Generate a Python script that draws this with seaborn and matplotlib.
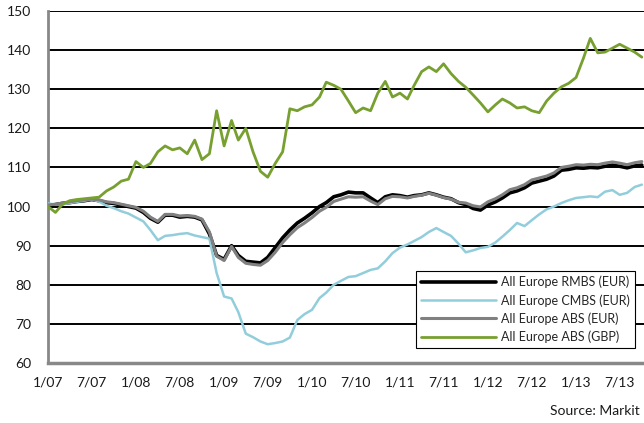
import numpy as np
import pandas as pd
import matplotlib
matplotlib.use('Agg')
import matplotlib.pyplot as plt
import seaborn as sns

# monthly readings, Jan 2007 .. Oct 2013
rmbs_eur = [100.2, 100.5, 100.8, 101.0, 101.3, 101.5, 101.8, 101.5, 101.0, 100.8,
            100.4, 100.0, 99.6, 98.5, 97.0, 96.0, 97.8, 97.8, 97.3, 97.5,
            97.3, 96.6, 93.0, 87.5, 86.5, 90.0, 87.5, 86.0, 85.8, 85.6,
            87.0, 89.5, 92.0, 94.0, 95.8, 97.0, 98.4, 100.0, 101.0, 102.5,
            103.0, 103.7, 103.5, 103.5, 102.2, 101.0, 102.5, 103.0, 102.8, 102.4,
            102.8, 103.0, 103.5, 103.0, 102.4, 102.0, 101.0, 100.5, 99.5, 99.1,
            100.4, 101.2, 102.2, 103.5, 104.0, 104.8, 106.0, 106.5, 107.0, 107.8,
            109.3, 109.5, 109.9, 109.8, 110.0, 109.9, 110.3, 110.6, 110.3, 109.9,
            110.4, 110.6]
cmbs_eur = [100.8, 100.5, 100.6, 100.9, 101.2, 101.5, 101.8, 101.3, 100.2, 99.6,
            98.8, 98.2, 97.2, 96.2, 94.0, 91.4, 92.5, 92.7, 93.0, 93.2,
            92.6, 92.2, 91.8, 83.0, 77.0, 76.5, 73.0, 67.5, 66.6, 65.5,
            64.8, 65.1, 65.5, 66.5, 71.0, 72.5, 73.6, 76.6, 78.0, 80.0,
            81.0, 82.0, 82.2, 83.0, 83.8, 84.2, 86.0, 88.1, 89.5, 90.3,
            91.2, 92.2, 93.5, 94.5, 93.5, 92.5, 90.5, 88.3, 88.8, 89.4,
            89.7, 90.8, 92.3, 94.0, 95.8, 95.0, 96.5, 98.0, 99.3, 100.0,
            100.9, 101.6, 102.2, 102.4, 102.6, 102.4, 103.8, 104.2, 103.0, 103.5,
            105.0, 105.6]
abs_eur = [100.4, 100.6, 100.9, 101.2, 101.5, 101.7, 101.9, 101.7, 101.2, 101.0,
           100.6, 100.2, 99.8, 98.8, 97.3, 96.2, 98.0, 98.0, 97.6, 97.7,
           97.5, 96.8, 93.5, 87.3, 86.2, 89.8, 87.0, 85.5, 85.2, 85.0,
           86.2, 88.3, 90.8, 92.8, 94.6, 95.8, 97.2, 98.8, 99.8, 101.3,
           101.9, 102.5, 102.4, 102.5, 101.4, 100.5, 102.0, 102.6, 102.5, 102.2,
           102.6, 102.9, 103.4, 102.9, 102.3, 101.9, 101.1, 100.9, 100.2, 99.9,
           101.2, 102.0, 103.0, 104.3, 104.8, 105.6, 106.8, 107.3, 107.8, 108.6,
           110.0, 110.3, 110.7, 110.6, 110.8, 110.7, 111.1, 111.4, 111.1, 110.7,
           111.2, 111.5]
abs_gbp = [100.0, 98.5, 100.5, 101.5, 101.8, 102.0, 102.2, 102.4, 104.0, 105.0,
           106.5, 107.0, 111.5, 110.0, 111.0, 114.0, 115.5, 114.5, 115.0, 113.5,
           117.0, 112.0, 113.5, 124.5, 115.5, 122.0, 117.0, 120.0, 114.0, 109.0,
           107.5, 111.0, 114.0, 125.0, 124.5, 125.5, 126.0, 128.0, 131.8, 131.0,
           130.0, 127.0, 124.0, 125.2, 124.5, 129.0, 132.0, 128.0, 129.0, 127.5,
           131.0, 134.5, 135.7, 134.5, 136.5, 134.0, 132.0, 130.5, 128.5, 126.5,
           124.2, 126.0, 127.5, 126.5, 125.2, 125.5, 124.5, 124.0, 127.0, 129.0,
           130.6, 131.5, 133.0, 138.0, 143.0, 139.3, 139.5, 140.5, 141.5, 140.5,
           139.5, 138.2]

series_names = ['All Europe RMBS (EUR)', 'All Europe CMBS (EUR)',
                'All Europe ABS (EUR)', 'All Europe ABS (GBP)']
tick_dates = ['2007-01-01', '2007-07-01', '2008-01-01', '2008-07-01', '2009-01-01',
              '2009-07-01', '2010-01-01', '2010-07-01', '2011-01-01', '2011-07-01',
              '2012-01-01', '2012-07-01', '2013-01-01', '2013-07-01']
tick_labels = ['1/07', '7/07', '1/08', '7/08', '1/09', '7/09', '1/10', '7/10',
               '1/11', '7/11', '1/12', '7/12', '1/13', '7/13']

dates = pd.date_range('2007-01-01', periods=len(rmbs_eur), freq='MS')
df = pd.concat([
    pd.DataFrame({'date': dates, 'value': vals, 'series': name})
    for name, vals in zip(series_names, [rmbs_eur, cmbs_eur, abs_eur, abs_gbp])
], ignore_index=True)

colors = {'All Europe RMBS (EUR)': '#000000', 'All Europe CMBS (EUR)': '#92CDDC',
          'All Europe ABS (EUR)': '#808080', 'All Europe ABS (GBP)': '#77A030'}
widths = {'All Europe RMBS (EUR)': 2.6, 'All Europe CMBS (EUR)': 1.8,
          'All Europe ABS (EUR)': 2.2, 'All Europe ABS (GBP)': 2.0}

sns.set_style('white')
plt.rcParams['font.family'] = ['Lato', 'DejaVu Sans']

fig = plt.figure(figsize=(6.44, 4.23), dpi=100)
ax = fig.add_axes([48 / 644, 60 / 423, 596 / 644, 352 / 423])

sns.lineplot(data=df, x='date', y='value', hue='series', size='series',
             hue_order=series_names, size_order=series_names,
             palette=colors, sizes=widths, ax=ax, zorder=3)

ax.set_ylim(60, 150)
ax.set_yticks(range(60, 151, 10))
ax.set_xlim(pd.Timestamp('2007-01-01'), pd.Timestamp('2013-10-10'))
ax.set_xticks(pd.to_datetime(tick_dates))
ax.set_xticklabels(tick_labels)
ax.yaxis.grid(True, color='black', linewidth=1.4)
ax.xaxis.grid(False)
ax.set_axisbelow(True)
ax.tick_params(axis='both', length=0, labelsize=10, colors='#1a1a1a')
ax.tick_params(axis='y', pad=12)
ax.tick_params(axis='x', pad=10)
ax.set_xlabel('')
ax.set_ylabel('')

for side in ['top', 'right']:
    ax.spines[side].set_visible(False)
ax.spines['left'].set_color('#888888')
ax.spines['left'].set_linewidth(2)
ax.spines['bottom'].set_color('#888888')
ax.spines['bottom'].set_linewidth(2.5)

handles, labels = ax.get_legend_handles_labels()
leg = ax.legend(handles, labels, loc='lower right',
                bbox_to_anchor=(635 / 644, 75 / 423), bbox_transform=fig.transFigure,
                fontsize=9, frameon=True, fancybox=False, framealpha=1,
                edgecolor='black', handlelength=6.0, borderpad=0.4,
                labelspacing=0.45, handletextpad=0.4, borderaxespad=0)
leg.get_frame().set_linewidth(0.8)
leg.set_zorder(5)

fig.text(640 / 644, 12 / 423, 'Source: Markit', ha='right', va='center',
         fontsize=10, color='#1a1a1a')

fig.savefig('out.png', dpi=100)
